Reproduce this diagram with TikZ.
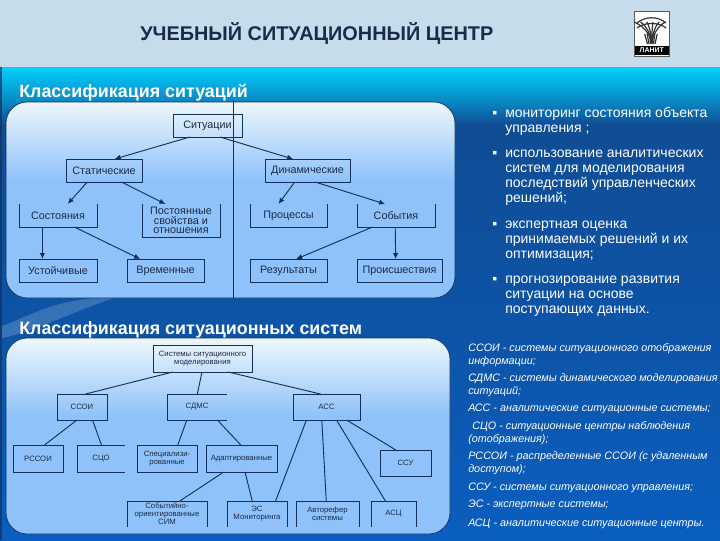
\documentclass[tikz,border=0pt]{standalone}
\usepackage{fontspec}
\setmainfont{Liberation Sans}
\usetikzlibrary{calc,arrows.meta}
\definecolor{headc}{HTML}{C6DCEA}
\definecolor{titlec}{HTML}{1A2B4A}
\definecolor{linec}{HTML}{12305C}
\definecolor{labelc}{HTML}{1C2A44}
\pgfdeclareverticalshading{bgshade}{100bp}{
  rgb(0bp)=(0.04,0.37,0.75);
  rgb(25bp)=(0.04,0.37,0.75);
  rgb(47bp)=(0.05,0.33,0.66);
  rgb(68.9bp)=(0.06,0.30,0.58);
  rgb(71bp)=(0.04,0.50,0.74);
  rgb(73.5bp)=(0.02,0.70,0.90);
  rgb(75bp)=(0.00,0.82,0.97);
  rgb(100bp)=(0.00,0.82,0.97)}
\pgfdeclareverticalshading{panelshade}{100bp}{
  rgb(0bp)=(0.56,0.76,0.98);
  rgb(55bp)=(0.56,0.76,0.98);
  rgb(75bp)=(0.93,0.97,0.99);
  rgb(100bp)=(0.93,0.97,0.99)}
\tikzset{
  sitbox/.style={font=\fontsize{8.1}{6.9}\selectfont,text=labelc,align=center,inner sep=0pt,outer sep=0pt},
  sysbox/.style={sitbox,font=\fontsize{5.8}{6}\selectfont},
  boxln/.style={draw=linec,line width=0.7pt},
  arr/.style={linec,line width=0.7pt,-{Latex[length=4.5pt,width=4pt]}},
  lnk/.style={linec,line width=0.7pt},
  panel/.style={draw=linec,line width=0.5pt,rounded corners=16pt,shading=panelshade},
  head/.style={font=\bfseries\fontsize{13.4}{15}\selectfont,text=white,anchor=base west,inner sep=0pt},
  bull/.style={font=\fontsize{10.5}{12}\selectfont,text=white,anchor=base west,inner sep=0pt},
  note/.style={font=\itshape\fontsize{8.1}{9}\selectfont,text=white,anchor=base west,inner sep=0pt}}

\begin{document}
\begin{tikzpicture}[x=0.75pt,y=-0.75pt]
  \useasboundingbox (0,0) rectangle (720,540);
  % background
  \fill[headc] (0,0) rectangle (720,67);
  \shade[shading=bgshade] (0,67) rectangle (720,540);
  \fill[linec,opacity=0.7] (0,67) rectangle (2,540);
  \fill[white,opacity=0.18] (2,326) .. controls (40,312) and (50,300) .. (120,296) .. controls (70,312) and (40,330) .. (2,338) -- cycle;
  \node[font=\bfseries\fontsize{14.9}{16}\selectfont,text=titlec,anchor=base west,inner sep=0pt] (title) at (140,40) {УЧЕБНЫЙ СИТУАЦИОННЫЙ ЦЕНТР};
  % logo
  \fill[white,draw=gray!70!black,line width=0.6pt] (634.5,11.5) rectangle (669,56);
  \foreach \b in {-14,-9,-4,1,6,11}{
    \draw[black!80,line width=0.9pt] (651.7,43) .. controls (651.7+0.2*\b,30) and (651.7+0.9*\b,24) .. (651.7+1.25*\b,22);
    \draw[black!80,line width=0.9pt] (651.7+0.3*\b,44) -- (651.7+0.5*\b,34);}
  \draw[black!80,line width=0.9pt] (637,23) .. controls (645,16) and (658,16) .. (666,23);
  \draw[black!80,line width=0.9pt] (637,28) .. controls (644,22) and (659,22) .. (666,28);
  \node[fill=black,text=white,font=\bfseries\fontsize{5.2}{6}\selectfont,minimum width=25.5pt,minimum height=7pt,inner sep=0pt,outer sep=0pt] (logo) at (651.7,50.5) {ЛАНИТ};
  % panels
  \path[panel] (6,102) rectangle (455,298);
  \path[panel] (6,338) rectangle (450,534);
  \coordinate (axt) at (233,100);
  \coordinate (axb) at (233,298);
  \draw[linec,line width=0.6pt] (axt) -- (axb);
  \node[head] (h1) at (19,97) {Классификация ситуаций};
  \node[head] (h2) at (19,334) {Классификация ситуационных систем};
  % tree of situations
  \foreach \n/\xa/\ya/\xb/\yb/\t in {
    sit/173/114/242/137/Ситуации,
    stat/66/159/142/182/Статические,
    dyn/265/159/350/182/Динамические,
    sost/19/204/97/227/Состояния,
    post/142/204/220/237/{Постоянные\\свойства и\\отношения},
    proc/250/204/327/227/Процессы,
    sob/357/204/435/227/События,
    ust/19/259/97/282/Устойчивые,
    vrem/127/259/204/282/Временные,
    rez/250/259/327/282/Результаты,
    proi/357/259/442/282/Происшествия}
    \node[sitbox,minimum width=(\xb-\xa)*0.75pt,minimum height=(\yb-\ya)*0.75pt] (\n) at ({(\xa+\xb)/2},{(\ya+\yb)/2}) {\t};
  % tree of systems
  \foreach \n/\xa/\ya/\xb/\yb/\t in {
    top/153/345/252/372/{Системы ситуационного\\моделирования},
    ssoi/57/394/107/420/ССОИ,
    sdms/167/394/227/420/СДМС,
    acc/293/394/360/420/АСС,
    rssoi/13/445/63/472/РССОИ,
    sco/77/445/125/472/СЦО,
    spec/137/445/197/472/{Специализи-\\рованные},
    adapt/206/445/277/472/Адаптированные,
    ssu/380/450/431/476/ССУ,
    ssim/127/501/207/527/{Событийно-\\ориентированные\\СИМ},
    es/227/501/287/527/{ЭС\\Мониторинга},
    avt/296/501/359/527/{Авторефер\\системы},
    asc/371/501/416/527/АСЦ}
    \node[sysbox,minimum width=(\xb-\xa)*0.75pt,minimum height=(\yb-\ya)*0.75pt] (\n) at ({(\xa+\xb)/2},{(\ya+\yb)/2}) {\t};
  \foreach \n in {sit,stat,dyn,ust,vrem,rez,proi,top,ssoi,acc,rssoi,spec,adapt,ssu}
    \draw[boxln] (\n.south west) rectangle (\n.north east);
  \foreach \n in {sost,post,proc,sob}
    \draw[boxln] (\n.north west) |- (\n.south east) -- (\n.north east);
  \foreach \n in {ssim,es,avt,asc}
    \draw[boxln] (\n.south west) |- (\n.north east) -- (\n.south east);
  \foreach \n in {sco,sdms}
    \draw[boxln] (\n.north east) -| (\n.south west) -- (\n.south east);
  \foreach \a/\fa/\b/\fb in {sit/.245/stat/.64,sit/.68/dyn/.33,stat/.28/sost/.625,stat/.73/post/.30,
    dyn/.35/proc/.37,dyn/.59/sob/.36,sost/.30/ust/.30,sost/.71/vrem/.17,sob/.20/rez/.60,sob/.49/proi/.455}
    \draw[arr] ($(\a.south west)!\fa!(\a.south east)$) -- ($(\b.north west)!\fb!(\b.north east)$);
  \foreach \a/\fa/\b/\fb in {top/.20/ssoi/.57,top/.495/sdms/.505,top/.76/acc/.41,ssoi/.40/rssoi/.63,ssoi/.71/sco/.51,
    sdms/.33/spec/.68,sdms/.84/adapt/.49,acc/.20/es/.81,acc/.43/avt/.48,acc/.65/asc/.32,acc/.80/ssu/.31,
    adapt/.25/ssim/.66,adapt/.55/es/.42}
    \draw[lnk] ($(\a.south west)!\fa!(\a.south east)$) -- ($(\b.north west)!\fb!(\b.north east)$);
  % right column
  \foreach \y/\t [count=\i] in {117/мониторинг состояния объекта,132/управления ;,
    157/использование аналитических,172/систем для моделирования,187/последствий управленческих,202/решений;,
    228/экспертная оценка,243/принимаемых решений и их,258/оптимизация;,
    283/прогнозирование развития,298/ситуации на основе,313/поступающих данных.}
    \node[bull] (bl\i) at (505,\y) {\t};
  \foreach \y [count=\i] in {117,157,228,283}
    \node[bull] (dot\i) at (492,\y) {▪};
  \foreach \y/\x/\t [count=\i] in {351/468/ССОИ - системы ситуационного отображения,364/468/информации;,
    381/468/СДМС - системы динамического моделирования,394/468/ситуаций;,
    411/468/АСС - аналитические ситуационные системы;,
    429/472/СЦО - ситуационные центры наблюдения,442/468/(отображения);,
    459/468/РССОИ - распределенные ССОИ (с удаленным,472/468/доступом);,
    490/468/ССУ - системы ситуационного управления;,
    507/468/ЭС - экспертные системы;,
    526/468/АСЦ - аналитические ситуационные центры.}
    \node[note] (nt\i) at (\x,\y) {\t};
\end{tikzpicture}
\end{document}
